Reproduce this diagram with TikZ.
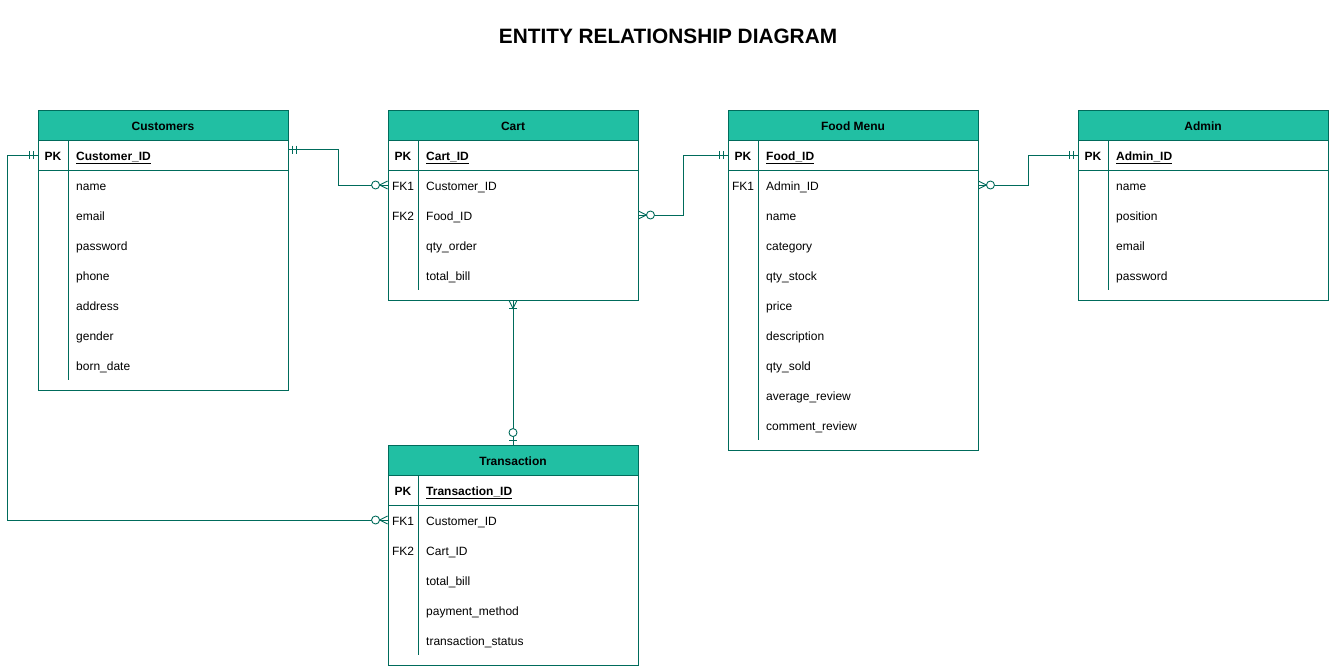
\documentclass[tikz,border=0pt]{standalone}
\usepackage{fontspec}
\setmainfont{Liberation Sans}
\usetikzlibrary{calc}
\definecolor{hdrfill}{HTML}{21BFA3}
\definecolor{lncol}{HTML}{006B5B}
\tikzset{
  ln/.style={draw=lncol, line width=0.9pt},
  tbl/.style={ln, rectangle, minimum width=250pt, inner sep=0pt, fill=white},
  hdr/.style={ln, rectangle, minimum width=250pt, minimum height=30pt, inner sep=0pt, fill=hdrfill, text height=11pt, text depth=0pt, font=\fontsize{12}{14}\selectfont\bfseries},
  txt/.style={inner sep=0pt, text height=11pt, text depth=0pt, font=\fontsize{12}{14}\selectfont},
  keyc/.style={txt, anchor=center},
  fld/.style={txt, anchor=west},
  conn/.style={ln},
  pics/onemand/.style={code={
    \draw[ln] (4,-4) -- (4,4);
    \draw[ln] (8,-4) -- (8,4);
  }},
  pics/zeromany/.style={code={
    \draw[ln] (0,-4) -- (8,0) -- (0,4);
    \draw[ln, fill=white] (12,0) circle (4);
  }},
  pics/onemany/.style={code={
    \draw[ln] (0,-4) -- (8,0) -- (0,4);
    \draw[ln] (8,-4) -- (8,4);
  }},
  pics/zeroone/.style={code={
    \draw[ln] (4,-4) -- (4,4);
    \draw[ln, fill=white] (12,0) circle (4);
  }},
}
% #1 name, #2 left x, #3 top y, #4 height, #5 title, #6 primary key
\newcommand\erbox[6]{%
  \node[tbl, minimum height=#4pt] (#1) at ({#2+125},{#3+#4/2}) {};
  \node[hdr] (#1-h) at ({#2+125},{#3+15}) {#5};
  \draw[ln] ({#2},{#3+60}) -- ({#2+250},{#3+60});
  \draw[ln] ({#2+30},{#3+30}) -- ({#2+30},{#3+#4-10});
  \node[keyc] (#1-pk) at ({#2+15},{#3+45}) {\bfseries PK};
  \node[fld] (#1-pkf) at ({#2+38},{#3+45}) {\bfseries\underline{#6}};
}
\begin{document}
\begin{tikzpicture}[x=1pt,y=-1pt]
\useasboundingbox[fill=white] (0,0) rectangle (1329,667);

\node[font=\fontsize{20.8}{24}\selectfont\bfseries, inner sep=0pt] (title) at (668,36) {ENTITY RELATIONSHIP DIAGRAM};

% Customers
\erbox{cust}{38}{110}{280}{Customers}{Customer\_ID}
\foreach \k/\f [count=\i] in {/name,/email,/password,/phone,/address,/gender,/born\_date}
  \node[fld] (cust-k\i) at (76,{155+30*\i}) {\f};

% Cart
\erbox{cart}{388}{110}{190}{Cart}{Cart\_ID}
\foreach \k/\f [count=\i] in {FK1/Customer\_ID,FK2/Food\_ID,/qty\_order,/total\_bill}{
  \node[keyc] (cart-c\i) at (403,{155+30*\i}) {\k};
  \node[fld] (cart-k\i) at (426,{155+30*\i}) {\f};
}

% Food Menu
\erbox{food}{728}{110}{340}{Food Menu}{Food\_ID}
\foreach \k/\f [count=\i] in {FK1/Admin\_ID,/name,/category,/qty\_stock,/price,/description,/qty\_sold,/average\_review,/comment\_review}{
  \node[keyc] (food-c\i) at (743,{155+30*\i}) {\k};
  \node[fld] (food-k\i) at (766,{155+30*\i}) {\f};
}

% Admin
\erbox{admin}{1078}{110}{190}{Admin}{Admin\_ID}
\foreach \k/\f [count=\i] in {/name,/position,/email,/password}
  \node[fld] (admin-k\i) at (1116,{155+30*\i}) {\f};

% Transaction
\erbox{trans}{388}{445}{220}{Transaction}{Transaction\_ID}
\foreach \k/\f [count=\i] in {FK1/Customer\_ID,FK2/Cart\_ID,/total\_bill,/payment\_method,/transaction\_status}{
  \node[keyc] (trans-c\i) at (403,{490+30*\i}) {\k};
  \node[fld] (trans-k\i) at (426,{490+30*\i}) {\f};
}

% Connectors
\coordinate (c1s) at ($(cust.north east)+(0,40)$);
\coordinate (c1e) at (cart.west |- cart-c1);
\draw[conn] (c1s) -- ++(50,0) |- (c1e);
\pic at (c1s) {onemand};
\pic[rotate=180] at (c1e) {zeromany};

\coordinate (c2s) at (cart.east |- cart-c2);
\coordinate (c2e) at (food.west |- food-pk);
\draw[conn] (c2s) -- ++(45,0) |- (c2e);
\pic at (c2s) {zeromany};
\pic[rotate=180] at (c2e) {onemand};

\coordinate (c3s) at (food.east |- food-c1);
\coordinate (c3e) at (admin.west |- admin-pk);
\draw[conn] (c3s) -- ++(50,0) |- (c3e);
\pic at (c3s) {zeromany};
\pic[rotate=180] at (c3e) {onemand};

\draw[conn] (cart.south) -- (trans.north);
\pic[rotate=-90] at (cart.south) {onemany};
\pic[rotate=90] at (trans.north) {zeroone};

\coordinate (c5s) at (cust.west |- cust-pk);
\coordinate (c5e) at (trans.west |- trans-c1);
\draw[conn] (c5s) -- ++(-30,0) |- (c5e);
\pic[rotate=180] at (c5s) {onemand};
\pic[rotate=180] at (c5e) {zeromany};
\end{tikzpicture}
\end{document}
